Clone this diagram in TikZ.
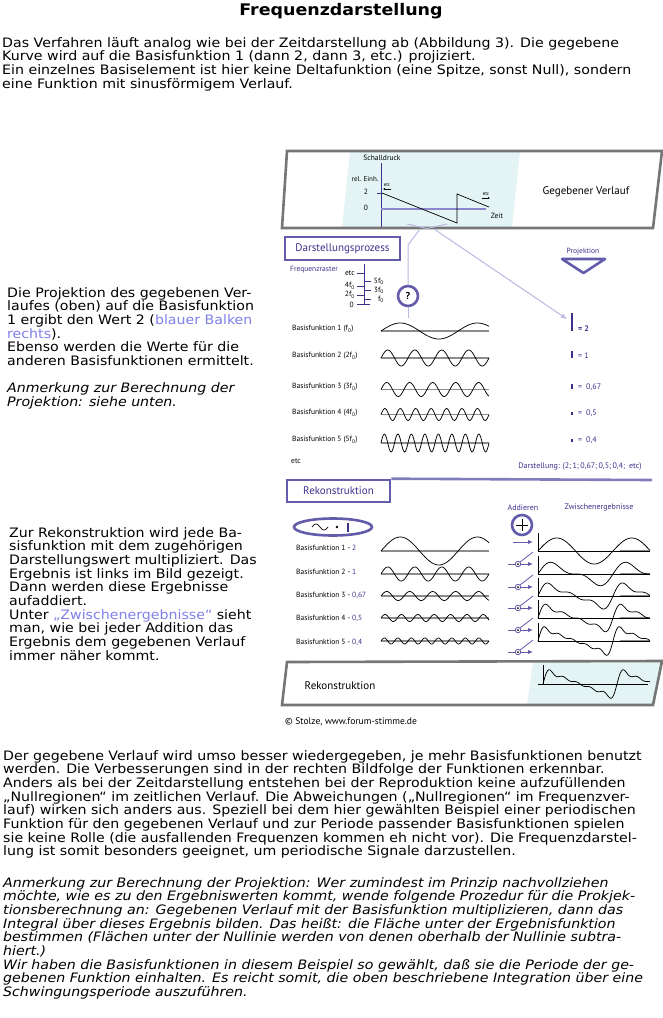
\documentclass[tikz,border=0pt]{standalone}
\usepackage{fontspec}
\setmainfont{DejaVu Sans}[FakeStretch=1.09]
\newfontfamily\diagfont{PT Sans}
\usetikzlibrary{positioning,shapes.geometric,arrows.meta}

\definecolor{framegray}{RGB}{118,118,118}
\definecolor{framepurple}{RGB}{98,92,170}
\definecolor{textpurple}{RGB}{60,50,140}
\definecolor{linklav}{RGB}{185,185,228}
\definecolor{linkblue}{RGB}{128,128,235}
\definecolor{skyfill}{RGB}{228,243,243}
\definecolor{zerogray}{RGB}{140,140,140}
\definecolor{zerolav}{RGB}{140,135,205}

\newcommand\bodyfont{\fontsize{13}{13.7}\selectfont}
\newcommand\lblfont{\diagfont\fontsize{7.5}{8}\selectfont}
\newcommand\boxfont{\diagfont\fontsize{11}{12}\selectfont}

\tikzset{
  outerframe/.style={draw=framegray, line width=2.6pt},
  procbox/.style={draw=framepurple, line width=2.6pt},
  lbl/.style={font=\lblfont, inner sep=0pt},
  plbl/.style={lbl, text=textpurple},
  textblock/.style={font=\bodyfont, align=left, inner sep=0pt, anchor=north west},
  wave/.style={black, line width=0.75pt, smooth},
  zeroline/.style={draw=zerogray, line width=1.5pt},
  projlink/.style={draw=linklav, line width=1pt},
  addarrow/.style={draw=framepurple, line width=1pt, -{Latex[length=5pt,width=4.5pt]}},
  valbar/.style={fill=textpurple, inner sep=0pt, minimum width=1.8pt},
}

\begin{document}
\begin{tikzpicture}[x=1pt,y=-1pt,
    declare function={sa(\u)=2*sin(4.8*\u); sb(\u)=sa(\u)+sin(9.6*\u);
      sc(\u)=sb(\u)+0.667*sin(14.4*\u); sd(\u)=sc(\u)+0.5*sin(19.2*\u);
      se(\u)=sd(\u)+0.4*sin(24*\u);}]
  \fill[white] (0,0) rectangle (663,1018);
  \useasboundingbox (0,0) rectangle (663,1018);

  % title and texts
  \node[font=\bfseries\fontsize{16}{18}\selectfont] (title) at (341,11) {Frequenzdarstellung};
  \node[textblock] (intro) at (2,37) {Das Verfahren läuft analog wie bei der Zeitdarstellung ab (Abbildung 3). Die gegebene\\
    Kurve wird auf die Basisfunktion 1 (dann 2, dann 3, etc.) projiziert.\\
    Ein einzelnes Basiselement ist hier keine Deltafunktion (eine Spitze, sonst Null), sondern\\
    eine Funktion mit sinusförmigem Verlauf.};
  \node[textblock] (projnote) at (7,287) {Die Projektion des gegebenen Ver-\\
    laufes (oben) auf die Basisfunktion\\
    1 ergibt den Wert 2 (\textcolor{linkblue}{blauer Balken}\\
    \textcolor{linkblue}{rechts}).\\
    Ebenso werden die Werte für die\\
    anderen Basisfunktionen ermittelt.\\[13.7pt]
    \textit{Anmerkung zur Berechnung der}\\
    \textit{Projektion: siehe unten.}};
  \node[textblock] (reknote) at (9,527) {Zur Rekonstruktion wird jede Ba-\\
    sisfunktion mit dem zugehörigen\\
    Darstellungswert multipliziert. Das\\
    Ergebnis ist links im Bild gezeigt.\\
    Dann werden diese Ergebnisse\\
    aufaddiert.\\
    Unter \textcolor{linkblue}{„Zwischenergebnisse“} sieht\\
    man, wie bei jeder Addition das\\
    Ergebnis dem gegebenen Verlauf\\
    immer näher kommt.};
  \node[textblock] (outro) at (3,750) {Der gegebene Verlauf wird umso besser wiedergegeben, je mehr Basisfunktionen benutzt\\
    werden. Die Verbesserungen sind in der rechten Bildfolge der Funktionen erkennbar.\\
    Anders als bei der Zeitdarstellung entstehen bei der Reproduktion keine aufzufüllenden\\
    „Nullregionen“ im zeitlichen Verlauf. Die Abweichungen („Nullregionen“ im Frequenzver-\\
    lauf) wirken sich anders aus. Speziell bei dem hier gewählten Beispiel einer periodischen\\
    Funktion für den gegebenen Verlauf und zur Periode passender Basisfunktionen spielen\\
    sie keine Rolle (die ausfallenden Frequenzen kommen eh nicht vor). Die Frequenzdarstel-\\
    lung ist somit besonders geeignet, um periodische Signale darzustellen.};
  \node[textblock, font=\bodyfont\itshape] (remark) at (3,877) {Anmerkung zur Berechnung der Projektion: Wer zumindest im Prinzip nachvollziehen\\
    möchte, wie es zu den Ergebniswerten kommt, wende folgende Prozedur für die Prokjek-\\
    tionsberechnung an: Gegebenen Verlauf mit der Basisfunktion multiplizieren, dann das\\
    Integral über dieses Ergebnis bilden. Das heißt: die Fläche unter der Ergebnisfunktion\\
    bestimmen (Flächen unter der Nullinie werden von denen oberhalb der Nullinie subtra-\\
    hiert.)\\
    Wir haben die Basisfunktionen in diesem Beispiel so gewählt, daß sie die Periode der ge-\\
    gebenen Funktion einhalten. Es reicht somit, die oben beschriebene Integration über eine\\
    Schwingungsperiode auszuführen.};

  % given curve
  \fill[skyfill] (350,152) -- (520,152) -- (512,227) -- (342,227) -- cycle;
  \draw[outerframe] (287,151) -- (662,151) -- (653,228) -- (282,228) -- cycle;
  \node[lbl] (schall) at (382,158) {Schalldruck};
  \node[lbl, font=\diagfont\fontsize{7}{8}\selectfont] (einh) at (365,179) {rel. Einh.};
  \node[lbl] (two) at (366,192) {2};
  \node[lbl] (zero) at (366,208) {0};
  \draw[textpurple, line width=0.9pt] (381,163) -- (381,227);
  \draw[textpurple, line width=0.9pt] (377,193) -- (381,193);
  \draw[zerolav, line width=2pt] (381,209) -- (486,209);
  \draw[black, line width=0.7pt] (382,193) -- (457,223) -- (457,194) -- (489,207);
  \node[lbl, font=\diagfont\fontsize{5}{5}\selectfont] (etcl) at (387,185) {etc};
  \draw[line width=0.4pt, -{Latex[length=2pt,width=2pt]}] (391,189) -- (383,189);
  \node[lbl, font=\diagfont\fontsize{5}{5}\selectfont] (etcr) at (486,194) {etc};
  \draw[line width=0.4pt, -{Latex[length=2pt,width=2pt]}] (482,198) -- (490,198);
  \node[lbl] (zeit) at (497,216) {Zeit};
  \node[font=\boxfont, inner sep=0pt] (givenlbl) at (586,192) {Gegebener Verlauf};

  % projection
  \node[procbox, font=\boxfont, text=textpurple, minimum width=115pt, minimum height=23pt,
    inner sep=0pt] (darst) at (342.5,248.5) {Darstellungsprozess};
  \node[plbl] (projlbl) at (583,252) {Projektion};
  \draw[procbox, line join=round] (562,259) -- (605,259) -- (583.5,273) -- cycle;
  \node[plbl] (raster) at (314,270) {Frequenzraster};
  \draw[textpurple, line width=0.9pt] (364,264) -- (364,305);
  \foreach \y/\t in {273/etc, 286/4f\textsubscript{0}, 295/2f\textsubscript{0}}
  {
    \draw[textpurple, line width=0.9pt] (357,\y) -- (364,\y);
    \node[lbl, anchor=east] (rl\y) at (355,\y) {\t};
  }
  \draw[textpurple, line width=0.9pt] (357,304.5) -- (370,304.5);
  \node[lbl, anchor=east] (rl0) at (354,305) {0};
  \foreach \y/\t in {281.5/5f\textsubscript{0}, 290.5/3f\textsubscript{0}, 299.5/f\textsubscript{0}}
  {
    \draw[textpurple, line width=0.9pt] (364,\y) -- (371,\y);
    \node[lbl, anchor=east] (rr\y) at (384,\y) {\t};
  }
  \node[circle, draw=framepurple, line width=2.6pt, fill=white, minimum size=20pt, inner sep=0pt,
    font=\diagfont\bfseries\fontsize{10}{10}\selectfont] (qmark) at (408,296) {?};
  \coordinate (vleft) at (420,229);
  \coordinate (vright) at (434,229);
  \draw[projlink] (407,224) -- (427,228.5) -- (447,224);
  \draw[projlink] (vleft) -- (qmark.north |- 0,245) -- (qmark.north);
  \draw[projlink] (qmark.south) -- ++(0,11);

  % basis functions and projection values
  \foreach \i/\yl/\yb/\amp/\per/\lab/\h/\val in {
      1/329/331/8/1.4/f/18/{\textbf{= 2}}, 2/356/358/8/4/2f/7/{= 1},
      3/387/389.5/7/4.7/3f/5/{=\enspace 0,67}, 4/413/414.5/6/7/4f/3.5/{=\enspace 0,5},
      5/440/443/9/8/5f/3/{=\enspace 0,4}}
  {
    \node[lbl, anchor=west] (bf\i) at (292,\yl) {Basisfunktion \i\ (\lab\textsubscript{0})};
    \draw[zeroline] (381,\yb) -- (489,\yb);
    \draw[wave, samples=120] plot[domain=0:108] ({381+\x},{\yb-\amp*sin(3.3333*\per*\x)});
    \node[valbar, minimum height=\h pt, anchor=south] (bar\i) at (572,\yl+2.5) {};
    \node[plbl, anchor=west, font=\diagfont\fontsize{8}{9}\selectfont] (val\i) at (578,\yl) {\val};
  }
  \draw[projlink, -{Latex[length=6pt,width=5pt]}] (vright) -- ([xshift=-5pt,yshift=-6pt]bar1.north);
  \node[lbl, anchor=west] (etcrow) at (291,461) {etc};
  \node[plbl, font=\diagfont\fontsize{8}{9}\selectfont] (darstval) at (580,467)
    {Darstellung: (2;\,1;\,0,67;\,0,5;\,0,4;\enspace etc)};

  % reconstruction
  \node[draw=framepurple, line width=2.6pt, font=\boxfont, text=textpurple, minimum width=103pt,
    minimum height=22pt, inner sep=0pt] (rekon) at (338.5,491) {Rekonstruktion};
  \draw[framepurple!80, line width=2.6pt] (rekon.north east) -- (652,480);
  \node[ellipse, draw=framepurple, line width=2.6pt, minimum width=78pt, minimum height=17pt] (mult) at (333,527) {};
  \draw[line width=0.7pt, smooth, samples=30] plot[domain=0:16] ({312+\x},{527-3*sin(22.5*\x)});
  \fill (337,527) circle (1.4);
  \draw[textpurple, line width=1.6pt] (348,522.5) -- (348,532);
  \foreach \i/\yl/\yb/\amp/\per/\val in {1/548/551/14/1.4/2, 2/572/574/7/4/1, 3/595/596/4.5/4.7/{0,67},
      4/618/618/3.5/6.6/{0,5}, 5/642/641/3/8/{0,4}}
  {
    \node[lbl, anchor=west] (rf\i) at (296,\yl) {Basisfunktion \i\ - \textcolor{textpurple}{\val}};
    \draw[zeroline] (381,\yb) -- (489,\yb);
    \draw[wave, samples=140] plot[domain=0:108] ({381+\x},{\yb-\amp*sin(3.3333*\per*\x)});
  }
  \node[plbl, font=\diagfont\fontsize{8}{9}\selectfont] (addlbl) at (523,508) {Addieren};
  \node[plbl, font=\diagfont\fontsize{8}{9}\selectfont] (zwlbl) at (599,508) {Zwischenergebnisse};
  \node[circle, draw=framepurple, line width=2.6pt, minimum size=20pt, inner sep=0pt] (addop) at (522,525) {};
  \draw[line width=1pt] (addop.center) ++(-6,0) -- ++(12,0);
  \draw[line width=1pt] (addop.center) ++(0,-6) -- ++(0,12);
  \draw[addarrow] (513,542) -- (533,542);
  \foreach \y [count=\k] in {564,587,608,630,652}
  {
    \draw[addarrow] (508,\y) -- (533,\y);
    \draw[framepurple, line width=0.8pt] (520,\y-2) -- (533,\y-12);
    \node[circle, draw=framepurple, fill=white, line width=0.8pt, minimum size=5.5pt, inner sep=0pt] (sw\k) at (518,\y) {};
    \fill (sw\k.center) circle (1);
  }
  \foreach \i/\b/\fn/\s in {1/551/sa/6.5, 2/574/sb/4.5, 3/596/sc/4.5, 4/618/sd/4.5, 5/641/se/4.5}
  {
    \draw[line width=0.9pt] (538,\b-18) -- (538,\b);
    \draw[zeroline] (620,\b) -- (650,\b);
    \draw[line width=0.7pt] (538,\b) -- (650,\b);
    \draw[wave, samples=170] plot[domain=0:112] ({538+\x},{\b-\s*\fn(\x)});
  }

  % final reconstruction
  \fill[skyfill] (533,662) -- (662,661) -- (653,705) -- (527,705) -- cycle;
  \draw[outerframe] (287,662) -- (662,661) -- (653,705) -- (282,705) -- cycle;
  \node[font=\boxfont, inner sep=0pt] (recfinal) at (340,686) {Rekonstruktion};
  \draw[line width=0.9pt] (543,665) -- (543,684);
  \draw[line width=0.7pt] (538,684) -- (648,684);
  \draw[wave, samples=170] plot[domain=0:107] ({543+\x},{684-4.5*se(\x*75/74)});
  \node[font=\diagfont\fontsize{9.5}{10}\selectfont, inner sep=0pt, anchor=west] (copy) at (285,722)
    {© Stolze, www.forum-stimme.de};
\end{tikzpicture}
\end{document}
